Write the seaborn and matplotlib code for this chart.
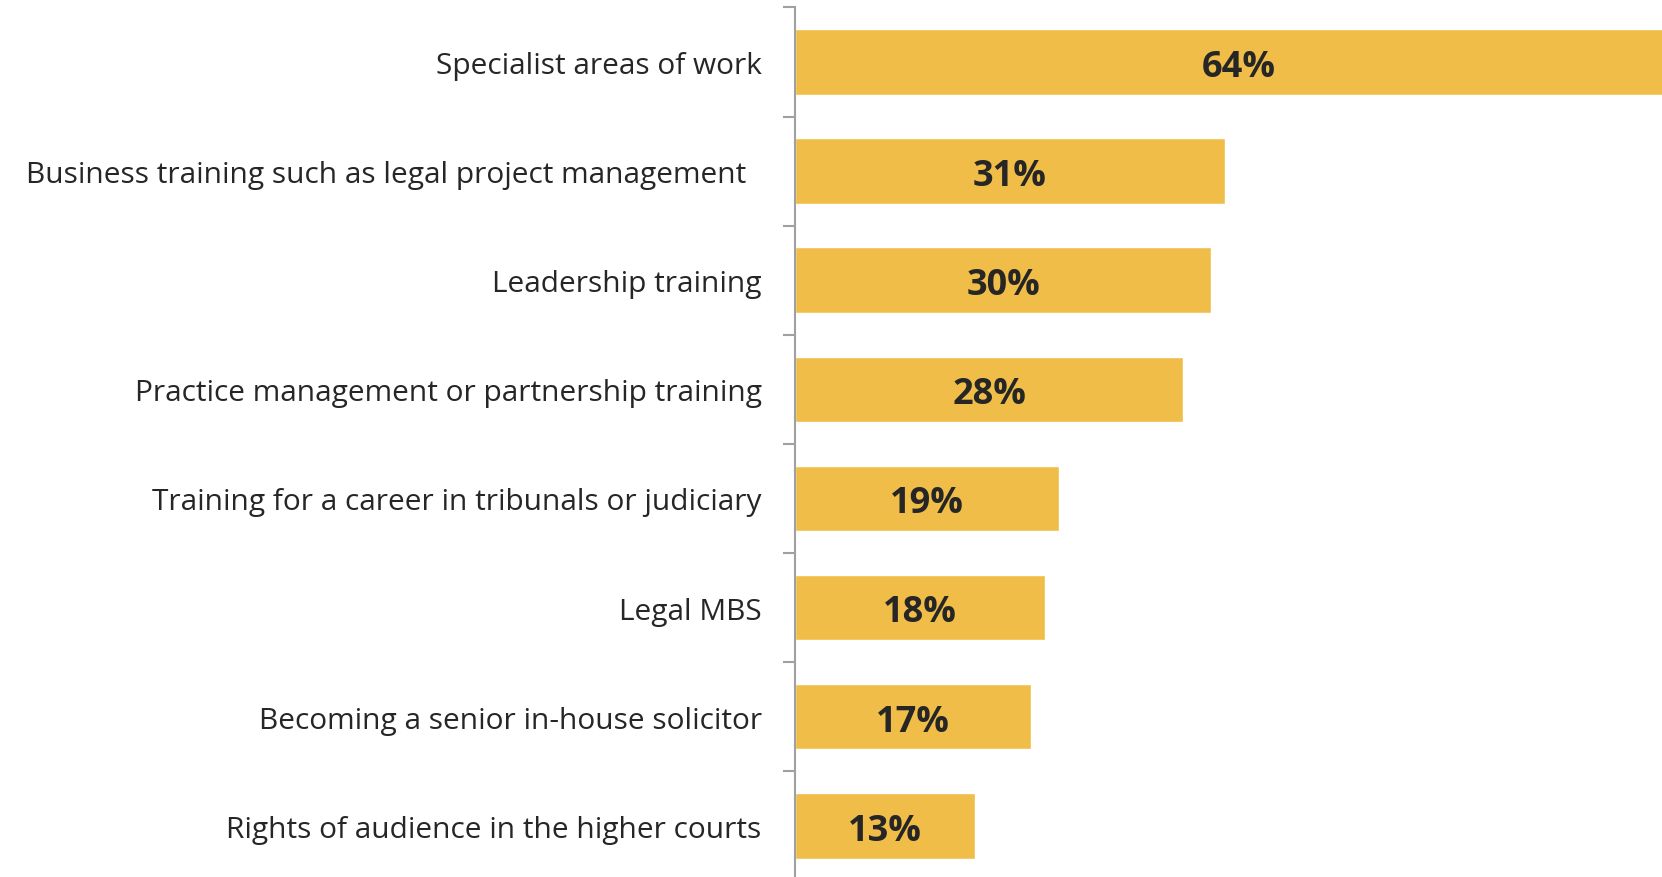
import matplotlib.pyplot as plt
import seaborn as sns
import pandas as pd
from matplotlib.ticker import FixedLocator

categories = [
    "Specialist areas of work",
    "Business training such as legal project management  ",
    "Leadership training",
    "Practice management or partnership training",
    "Training for a career in tribunals or judiciary",
    "Legal MBS",
    "Becoming a senior in-house solicitor",
    "Rights of audience in the higher courts",
]
values = [64, 31, 30, 28, 19, 18, 17, 13]

df = pd.DataFrame({"category": categories, "value": values})

sns.set_style("white")
plt.rcParams["font.family"] = ["Open Sans", "DejaVu Sans"]

fig = plt.figure(figsize=(16.62, 8.78), dpi=100)
ax = fig.add_axes([795 / 1662, -3.4 / 878, 1 - 795 / 1662, 873 / 878])

sns.barplot(data=df, x="value", y="category", color="#F0BE48", saturation=1,
            width=0.6, ax=ax)

ax.set_xlim(0, 62.5)
ax.set_ylim(7.5, -0.5)
ax.set_xlabel("")
ax.set_ylabel("")
ax.set_xticks([])

for s in ["top", "right", "bottom"]:
    ax.spines[s].set_visible(False)
ax.spines["left"].set_color("#a0a0a0")
ax.spines["left"].set_linewidth(1.5)

ax.tick_params(axis="y", which="major", left=False, length=0, pad=24,
               labelsize=21.5, labelcolor="#262626")
ax.yaxis.set_minor_locator(FixedLocator([i - 0.5 for i in range(9)]))
ax.tick_params(axis="y", which="minor", left=True, length=8.5, width=1.5,
               color="#a0a0a0", direction="out")

# percentage labels sit a touch below the bar centre
for i, v in enumerate(values):
    ax.text(v / 2, i + 0.045, f"{v}%", ha="center", va="center", fontsize=26,
            fontweight="bold", color="#262626", clip_on=False)

fig.savefig("out.png", dpi=100)
